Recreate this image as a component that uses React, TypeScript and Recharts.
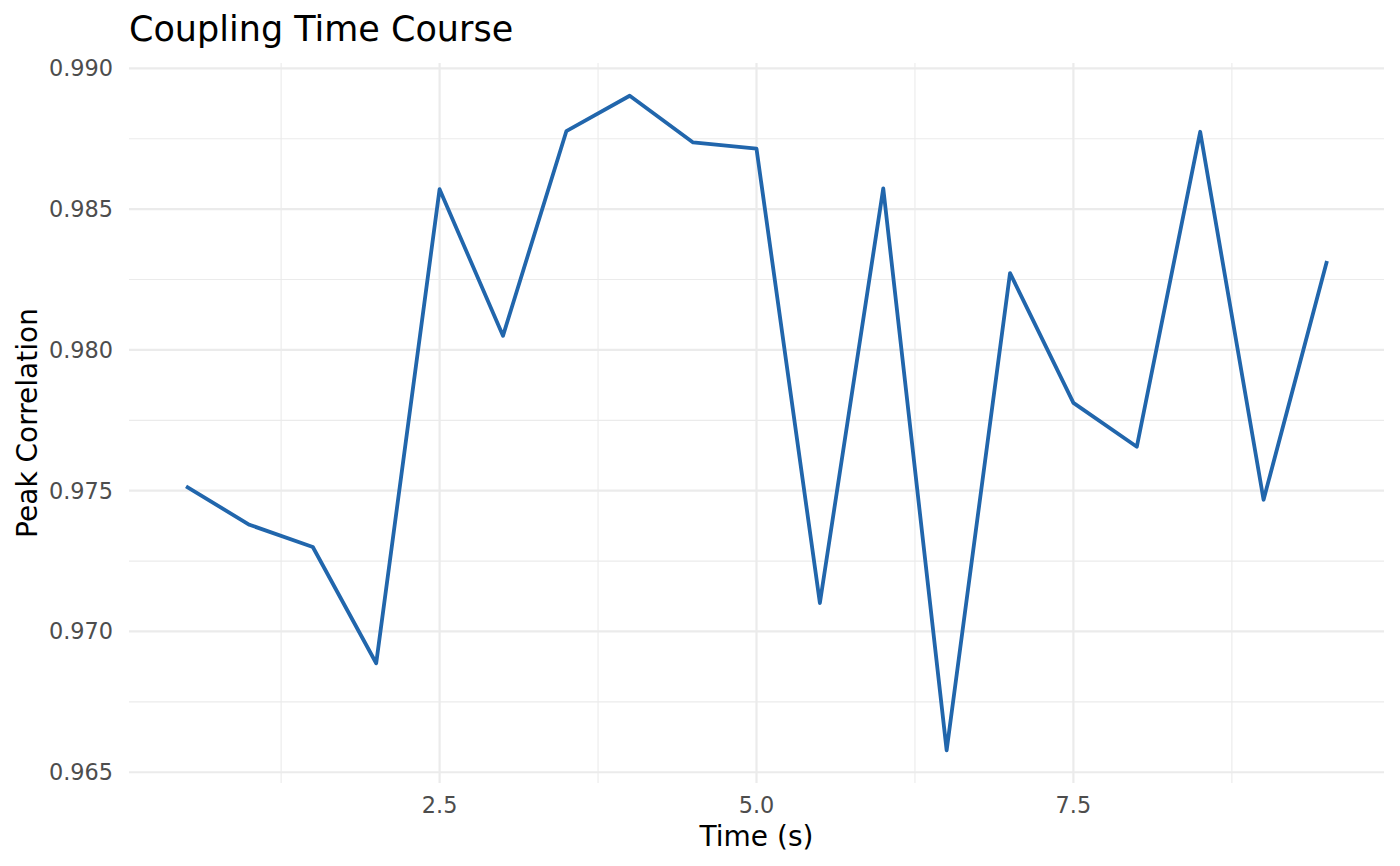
import React from 'react';
import { LineChart, Line, XAxis, YAxis, CartesianGrid, Label } from 'recharts';

// ---- data ----
const timeValues: number[] = [0.5, 1.0, 1.5, 2.0, 2.5, 3.0, 3.5, 4.0, 4.5, 5.0, 5.5, 6.0, 6.5, 7.0, 7.5, 8.0, 8.5, 9.0, 9.5];
const peakCorrelation: number[] = [
  0.97515, 0.97379, 0.97300, 0.96887, 0.98571, 0.98050, 0.98777, 0.98903, 0.98737, 0.98715,
  0.97101, 0.98574, 0.96578, 0.98273, 0.97812, 0.97656, 0.98775, 0.97468, 0.98316,
];
const xMajorTicks: number[] = [2.5, 5.0, 7.5];
const xMinorTicks: number[] = [1.25, 3.75, 6.25, 8.75];
const yMajorTicks: number[] = [0.965, 0.97, 0.975, 0.98, 0.985, 0.99];
const yMinorTicks: number[] = [0.9675, 0.9725, 0.9775, 0.9825, 0.9875];

const titleText = 'Coupling Time Course';
const xTitle = 'Time (s)';
const yTitle = 'Peak Correlation';

const chartData = timeValues.map((t, i) => ({ t, r: peakCorrelation[i] }));

// ggplot-style 5% expansion of the data range
const expand = (vals: number[]): [number, number] => {
  const lo = Math.min(...vals);
  const hi = Math.max(...vals);
  const pad = (hi - lo) * 0.05;
  return [lo - pad, hi + pad];
};
const xDomain = expand(timeValues);
const yDomain = expand(peakCorrelation);

const FONT = "'DejaVu Sans', sans-serif";

const YTitle = (props: any) => {
  const vb = props.viewBox || { x: 0, y: 63, width: 129, height: 720 };
  const cx = 36.5;
  const cy = vb.y + vb.height / 2;
  return (
    <text
      x={cx}
      y={cy}
      transform={`rotate(-90, ${cx}, ${cy})`}
      textAnchor="middle"
      fill="#000000"
      fontSize={28}
      fontFamily={FONT}
    >
      {yTitle}
    </text>
  );
};

export default function App() {
  return (
    <div
      style={{
        position: 'absolute',
        left: 0,
        top: 0,
        width: 1400,
        height: 866,
        background: '#ffffff',
        fontFamily: FONT,
      }}
    >
      <LineChart
        width={1400}
        height={866}
        data={chartData}
        margin={{ top: 63, right: 16, bottom: 0, left: 0 }}
      >
        <CartesianGrid
          stroke="#EBEBEB"
          strokeWidth={1.1}
          horizontalValues={yMinorTicks}
          verticalValues={xMinorTicks}
        />
        <CartesianGrid
          stroke="#EBEBEB"
          strokeWidth={2.2}
          horizontalValues={yMajorTicks}
          verticalValues={xMajorTicks}
        />
        <XAxis
          type="number"
          dataKey="t"
          domain={xDomain}
          allowDataOverflow
          ticks={xMajorTicks}
          tickFormatter={(v: number) => v.toFixed(1)}
          axisLine={false}
          tickLine={false}
          tickSize={0}
          tickMargin={14}
          height={83}
          tick={{ fill: '#4D4D4D', fontSize: 22.4, fontFamily: FONT }}
          interval={0}
        >
          <Label
            value={xTitle}
            position="insideBottom"
            offset={20}
            fill="#000000"
            fontSize={28}
            fontFamily={FONT}
          />
        </XAxis>
        <YAxis
          type="number"
          dataKey="r"
          domain={yDomain}
          allowDataOverflow
          ticks={yMajorTicks}
          tickFormatter={(v: number) => v.toFixed(3)}
          axisLine={false}
          tickLine={false}
          tickSize={0}
          tickMargin={16}
          width={129}
          tick={{ fill: '#4D4D4D', fontSize: 22.4, fontFamily: FONT }}
          interval={0}
        >
          <Label content={<YTitle />} />
        </YAxis>
        <Line
          type="linear"
          dataKey="r"
          stroke="#2166AC"
          strokeWidth={3.8}
          strokeLinejoin="round"
          strokeLinecap="butt"
          dot={false}
          activeDot={false}
          isAnimationActive={false}
        />
      </LineChart>
      <svg
        width={1400}
        height={60}
        style={{ position: 'absolute', left: 0, top: 0, pointerEvents: 'none' }}
      >
        <text x={129} y={41} fill="#000000" fontSize={35} fontFamily={FONT}>
          {titleText}
        </text>
      </svg>
    </div>
  );
}
